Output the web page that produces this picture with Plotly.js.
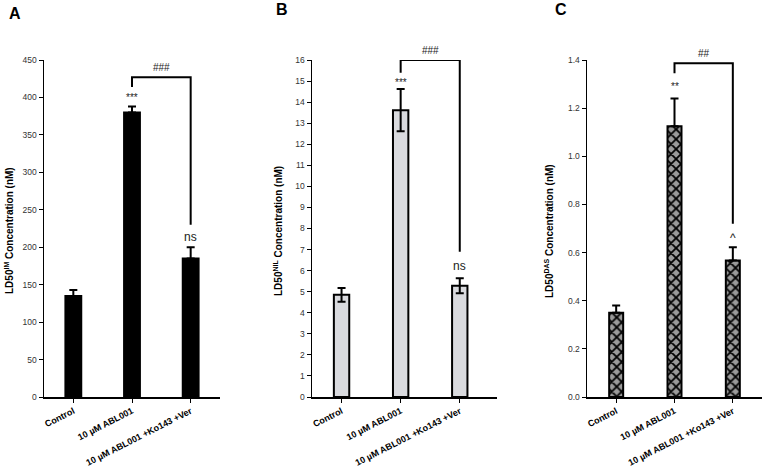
<!DOCTYPE html>
<html>
<head>
<meta charset="utf-8">
<script src="https://cdn.plot.ly/plotly-3.0.1.min.js"></script>
<style>html,body{margin:0;padding:0;background:#fff;}#chart{width:763px;height:469px;}</style>
</head>
<body>
<div id="chart"></div>
<script>
// ---- data ----
const categories = ["Control", "10 µM ABL001", "10 µM ABL001 +Ko143 +Ver"];
const valuesA = [135, 380, 185];
const errorsA = [8, 8, 15];
const valuesB = [4.85, 13.62, 5.28];
const errorsB = [0.33, 1.0, 0.36];
const valuesC = [0.35, 1.125, 0.567];
const errorsC = [0.03, 0.115, 0.055];
const rangesY = [[0, 450], [0, 16], [0, 1.4]];
const ticksY = [50, 1, 0.2];
const yTitles = ["LD50<sup>IM</sup> Concentration (nM)", "LD50<sup>NIL</sup> Concentration (nM)", "LD50<sup>DAS</sup> Concentration (nM)"];
const panelLetters = ["A", "B", "C"];
// significance annotations: [bracket top, left leg end, right leg end, label y over bar1, label y over bar2]
const bracketA = [427, 414, 230, 400, 214];
const bracketB = [16.0, 15.4, 6.9, 14.95, 6.2];
const bracketC = [1.387, 1.345, 0.72, 1.29, 0.66];
const starLabels = ["***", "***", "**"];
const secondLabels = ["ns", "ns", "^"];
const bracketLabels = ["###", "###", "##"];

const W = 763, H = 469;
const font = "Liberation Sans, Arial, sans-serif";
const zeros = [0, 0, 0];

function px(x) { return x / W; }

const traces = [
  {
    type: 'bar', x: categories, y: valuesA, xaxis: 'x', yaxis: 'y', width: 0.27,
    marker: {color: '#000000', line: {color: '#000000', width: 2}},
    error_y: {type: 'data', array: errorsA, symmetric: false, arrayminus: zeros, color: '#000', thickness: 2, width: 4}
  },
  {
    type: 'bar', x: categories, y: valuesB, xaxis: 'x2', yaxis: 'y2', width: 0.26,
    marker: {color: '#d9dade', line: {color: '#000000', width: 2}},
    error_y: {type: 'data', array: errorsB, color: '#000', thickness: 2, width: 4}
  },
  {
    type: 'bar', x: categories, y: valuesC, xaxis: 'x3', yaxis: 'y3', width: 0.24,
    marker: {color: '#9a9a9a', line: {color: '#000000', width: 2},
      pattern: {shape: 'x', fgcolor: '#000000', bgcolor: '#9a9a9a', size: 7, solidity: 0.45}},
    error_y: {type: 'data', array: errorsC, symmetric: false, arrayminus: zeros, color: '#000', thickness: 2, width: 4}
  }
];

const yDomain = [(H - 397) / H, (H - 60) / H];
function xa(domain, range) {
  return {
    domain: domain, range: range, type: 'category',
    showline: true, linecolor: '#000', linewidth: 1.5, showgrid: false, zeroline: false,
    ticks: 'outside', ticklen: 4, tickwidth: 1, tickcolor: '#000', tickangle: -27,
    tickfont: {family: font, size: 9, color: '#000', weight: 'bold'}, fixedrange: true
  };
}
function ya(i, anchor) {
  return {
    domain: yDomain, range: rangesY[i], anchor: anchor, dtick: ticksY[i],
    showline: true, linecolor: '#000', linewidth: 1.5, showgrid: false, zeroline: false,
    ticks: 'outside', ticklen: 4, tickwidth: 1, tickcolor: '#000',
    tickfont: {family: font, size: 8.5, color: '#333'}, fixedrange: true,
    tickformat: i === 2 ? '.1f' : ''
  };
}

const layout = {
  width: W, height: H, margin: {l: 0, r: 0, t: 0, b: 0},
  paper_bgcolor: '#fff', plot_bgcolor: 'rgba(0,0,0,0)', showlegend: false, bargap: 0,
  xaxis: Object.assign(xa([px(44), px(220)], [-0.5, 2.5]), {anchor: 'y'}),
  yaxis: ya(0, 'x'),
  xaxis2: Object.assign(xa([px(312), px(497)], [-0.5, 2.63]), {anchor: 'y2'}),
  yaxis2: ya(1, 'x2'),
  xaxis3: Object.assign(xa([px(587), px(762)], [-0.5, 2.5]), {anchor: 'y3'}),
  yaxis3: ya(2, 'x3'),
  shapes: [], annotations: []
};

const brackets = [bracketA, bracketB, bracketC];
const axIds = ['', '2', '3'];
const titleX = [9, 278, 549];
const letterX = [14.5, 282, 561];
const letterY = [14, 10, 10];

brackets.forEach((b, i) => {
  const xr = 'x' + axIds[i], yr = 'y' + axIds[i];
  layout.shapes.push({
    type: 'path', xref: xr, yref: yr,
    path: `M 1,${b[1]} L 1,${b[0]} L 2,${b[0]} L 2,${b[2]}`,
    line: {color: '#000', width: 2}
  });
  layout.annotations.push(
    {xref: xr, yref: yr, x: 1, y: b[3], text: starLabels[i], showarrow: false, font: {family: font, size: 10, color: '#222'}},
    {xref: xr, yref: yr, x: 2, y: b[4], text: secondLabels[i], showarrow: false, font: {family: font, size: 12, color: '#222'}},
    {xref: xr, yref: yr, x: 1.5, y: b[0], yanchor: 'bottom', yshift: 2, text: bracketLabels[i], showarrow: false, font: {family: font, size: 10, color: '#222'}},
    {xref: 'paper', yref: 'paper', x: px(titleX[i]), y: 1 - 231 / H, xanchor: 'center', yanchor: 'middle', text: yTitles[i], textangle: -90,
      showarrow: false, font: {family: font, size: 10, color: '#000', weight: 'bold'}},
    {xref: 'paper', yref: 'paper', x: px(letterX[i]), y: 1 - letterY[i] / H, xanchor: 'center', yanchor: 'middle', text: panelLetters[i], showarrow: false,
      font: {family: font, size: 16, color: '#000', weight: 'bold'}}
  );
});

Plotly.newPlot('chart', traces, layout, {staticPlot: true, displayModeBar: false});
</script>
</body>
</html>
